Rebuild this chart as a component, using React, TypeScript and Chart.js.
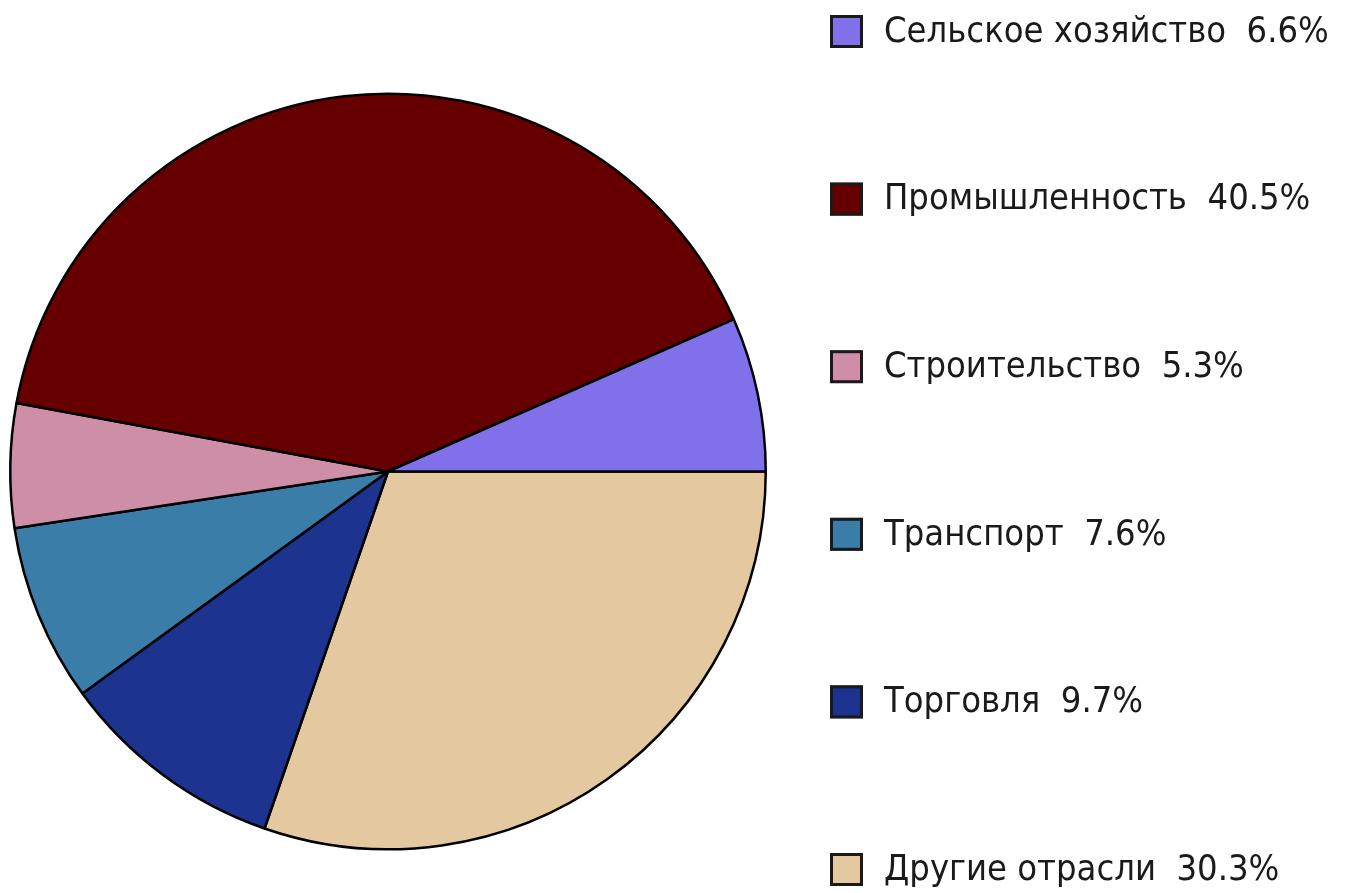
import React, { useEffect, useRef } from "react";
import { Chart, registerables } from "chart.js";

Chart.register(...registerables);

const categories = [
  "Сельское хозяйство",
  "Промышленность",
  "Строительство",
  "Транспорт",
  "Торговля",
  "Другие отрасли",
];
const shares = [6.6, 40.5, 5.3, 7.6, 9.7, 30.3];
const shareLabels = ["6.6%", "40.5%", "5.3%", "7.6%", "9.7%", "30.3%"];
const colors = ["#8070EA", "#660000", "#CE8EA8", "#3A7DA8", "#1C3390", "#E4C8A0"];

const legendPlugin = {
  id: "sideLegend",
  afterDraw(chart: any) {
    const ctx = chart.ctx;
    ctx.save();
    const x0 = 830;
    const top = 15;
    const step = 167.6;
    const box = 33;
    ctx.font = "36px 'DejaVu Sans Condensed', 'Liberation Sans Narrow', sans-serif";
    ctx.textBaseline = "middle";
    ctx.textAlign = "left";
    categories.forEach((c, i) => {
      const y = top + i * step;
      ctx.fillStyle = colors[i];
      ctx.fillRect(x0, y, box, box);
      ctx.lineWidth = 3;
      ctx.strokeStyle = "#1a1a1a";
      ctx.strokeRect(x0 + 1.5, y + 1.5, box - 3, box - 3);
      ctx.fillStyle = "#1a1a1a";
      ctx.fillText(c + "  " + shareLabels[i], 884, y + box / 2 + 1);
    });
    ctx.restore();
  },
};

export default function App() {
  const ref = useRef<HTMLCanvasElement | null>(null);
  useEffect(() => {
    if (!ref.current) return;
    // reverse so slices go counter-clockwise from 3 o'clock like the reference
    const labels = [...categories].reverse();
    const data = [...shares].reverse();
    const bg = [...colors].reverse();
    const chart = new Chart(ref.current, {
      type: "pie",
      data: {
        labels,
        datasets: [
          {
            data,
            backgroundColor: bg,
            borderColor: "#000000",
            borderWidth: 2.5,
          },
        ],
      },
      options: {
        animation: false,
        responsive: true,
        maintainAspectRatio: false,
        rotation: 90,
        layout: { padding: { left: 9, right: 578, top: 91, bottom: 41 } },
        plugins: {
          legend: { display: false },
          tooltip: { enabled: false },
        },
      },
      plugins: [legendPlugin],
    });
    return () => chart.destroy();
  }, []);
  return (
    <div style={{ position: "fixed", left: 0, top: 0, width: 1345, height: 893, background: "#ffffff" }}>
      <canvas ref={ref} />
    </div>
  );
}
